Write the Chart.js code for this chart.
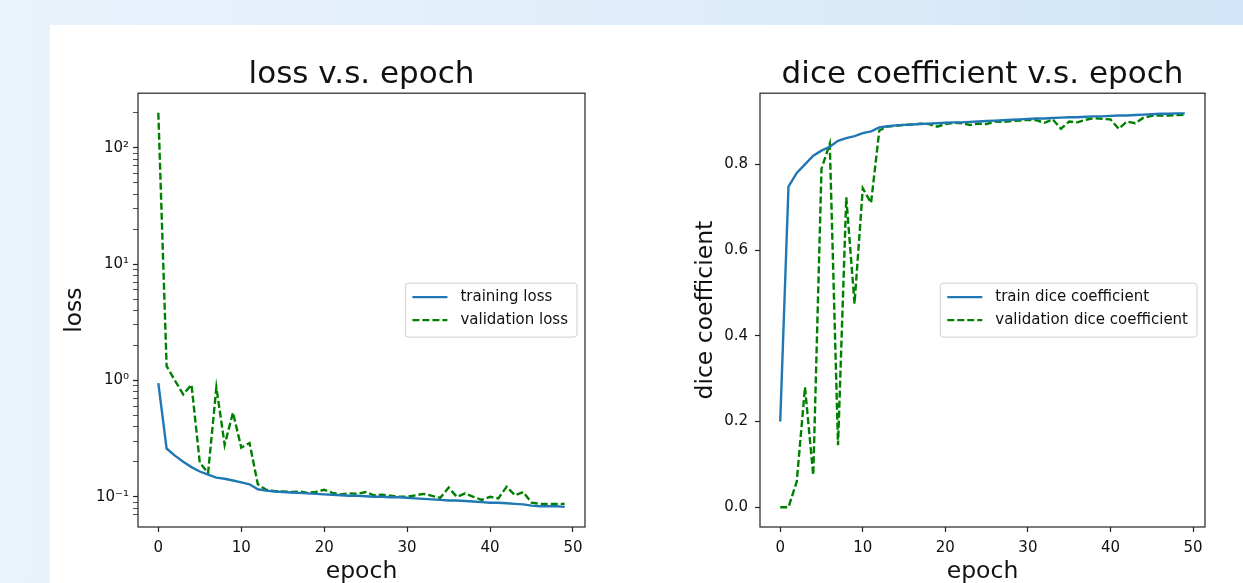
<!DOCTYPE html>
<html>
<head>
<meta charset="utf-8">
<script src="https://cdn.jsdelivr.net/npm/chart.js@4.4.1/dist/chart.umd.min.js"></script>
<style>
  body { margin: 0; width: 1243px; height: 583px; overflow: hidden;
         background: linear-gradient(90deg, #eaf3fc 0%, #dfedfa 55%, #d0e5f7 100%); }
  #panel { position: absolute; left: 50px; top: 25px; width: 1193px; height: 558px; background: #fff; overflow: visible; }
  .box { position: absolute; top: 0; height: 561px; }
  #lossBox { left: 0; width: 560px; }
  #diceBox { left: 630px; width: 550px; }
</style>
</head>
<body>
<div id="panel">
  <div class="box" id="lossBox"><canvas id="lossChart"></canvas></div>
  <div class="box" id="diceBox"><canvas id="diceChart"></canvas></div>
</div>
<script>
// epochs 0..49
const epochs = [0,1,2,3,4,5,6,7,8,9,10,11,12,13,14,15,16,17,18,19,20,21,22,23,24,
  25,26,27,28,29,30,31,32,33,34,35,36,37,38,39,40,41,42,43,44,45,46,47,48,49];

const trainLoss = [0.95,0.26,0.226,0.20,0.18,0.165,0.155,0.146,0.143,0.138,0.133,0.128,0.116,0.113,
  0.111,0.11,0.109,0.108,0.107,0.106,0.105,0.104,0.103,0.102,0.102,0.101,0.1,0.1,0.099,0.099,
  0.098,0.097,0.096,0.095,0.094,0.093,0.093,0.092,0.091,0.09,0.089,0.089,0.088,0.087,0.086,
  0.084,0.083,0.083,0.083,0.082];
const valLoss = [200,1.33,1.0,0.76,0.92,0.197,0.16,0.87,0.28,0.53,0.265,0.29,0.128,0.115,
  0.112,0.111,0.11,0.111,0.108,0.11,0.115,0.108,0.105,0.107,0.106,0.11,0.103,0.104,0.102,0.1,
  0.1,0.103,0.106,0.102,0.098,0.12,0.1,0.107,0.1,0.094,0.1,0.097,0.122,0.103,0.11,
  0.089,0.087,0.087,0.087,0.087];

const trainDice = [0.2,0.748,0.78,0.80,0.82,0.832,0.841,0.855,0.861,0.866,0.873,0.877,0.886,0.889,
  0.891,0.892,0.893,0.894,0.895,0.896,0.897,0.898,0.898,0.899,0.9,0.901,0.902,0.903,0.904,0.905,
  0.906,0.907,0.907,0.908,0.909,0.91,0.91,0.911,0.912,0.912,0.913,0.914,0.914,0.915,0.916,
  0.917,0.918,0.918,0.919,0.919];
const valDice = [0.0,0.0,0.06,0.28,0.075,0.79,0.848,0.145,0.723,0.475,0.744,0.71,0.879,0.888,
  0.89,0.892,0.893,0.895,0.894,0.888,0.894,0.897,0.896,0.892,0.895,0.894,0.9,0.899,0.901,0.902,
  0.904,0.903,0.897,0.905,0.883,0.9,0.898,0.904,0.908,0.906,0.905,0.883,0.9,0.896,0.909,
  0.913,0.914,0.914,0.915,0.916];

const xTicks = [0, 10, 20, 30, 40, 50];
const diceTicks = [0.0, 0.2, 0.4, 0.6, 0.8];

const BLUE = "#1f77b4";
const GREEN = "#008000";
const TEXT = "#111111";

Chart.defaults.font.family = '"DejaVu Sans", sans-serif';
Chart.defaults.color = TEXT;

const sup = { "-": "\u207B", "0": "\u2070", "1": "\u00B9", "2": "\u00B2", "3": "\u00B3" };

function logMantissa(v) {
  const e = Math.floor(Math.log10(v) + 1e-9);
  return v / Math.pow(10, e);
}
function isWholeTick(v) {
  const m = logMantissa(v);
  return Math.abs(m - Math.round(m)) < 1e-6;
}
function logLabel(v) {
  const e = Math.log10(v);
  if (Math.abs(e - Math.round(e)) > 1e-6) return "";
  return "10" + String(Math.round(e)).split("").map(c => sup[c]).join("");
}

// box around the axes plus a matplotlib style legend inside it
const framePlugin = {
  id: "frameAndLegend",
  afterDraw(chart) {
    const { ctx, chartArea: a } = chart;
    ctx.save();
    ctx.strokeStyle = "#222";
    ctx.lineWidth = 1.2;
    ctx.strokeRect(a.left, a.top, a.right - a.left, a.bottom - a.top);

    const sets = chart.data.datasets;
    ctx.font = '15px "DejaVu Sans"';
    const textW = Math.max(...sets.map(d => ctx.measureText(d.label).width));
    const w = 7 + 35 + 13 + textW + 9, h = 54;
    const x = a.right - 8 - w, y = (a.top + a.bottom) / 2 - h / 2;
    ctx.fillStyle = "rgba(255,255,255,0.8)";
    ctx.strokeStyle = "#d0d0d0";
    ctx.lineWidth = 1;
    ctx.beginPath();
    ctx.roundRect(x, y, w, h, 3);
    ctx.fill();
    ctx.stroke();
    sets.forEach((d, i) => {
      const ly = y + 14 + i * 23;
      ctx.strokeStyle = d.borderColor;
      ctx.lineWidth = d.borderWidth;
      ctx.setLineDash(d.borderDash || []);
      ctx.beginPath();
      ctx.moveTo(x + 7, ly);
      ctx.lineTo(x + 42, ly);
      ctx.stroke();
      ctx.setLineDash([]);
      ctx.fillStyle = TEXT;
      ctx.textBaseline = "middle";
      ctx.fillText(d.label, x + 55, ly);
    });
    ctx.restore();
  }
};

function series(label, values, color, dashed) {
  return {
    label: label,
    data: epochs.map((e, i) => ({ x: e, y: values[i] })),
    borderColor: color,
    borderWidth: 2.4,
    borderDash: dashed ? [7, 3] : [],
    pointRadius: 0,
    tension: 0,
    fill: false
  };
}

function xAxis() {
  return {
    type: "linear",
    min: -2.45,
    max: 51.45,
    afterFit: s => { s.height = 59; },
    afterBuildTicks: s => { s.ticks = xTicks.map(v => ({ value: v })); },
    border: { display: false },
    grid: { drawOnChartArea: false, tickLength: 5, tickColor: "#222", tickWidth: 1.2 },
    ticks: { padding: 7, font: { size: 15 }, color: TEXT, maxRotation: 0 },
    title: { display: true, text: "epoch", font: { size: 23.5 }, color: TEXT, padding: { top: 0, bottom: 0 } }
  };
}

function baseOptions(titleText, yAxis) {
  return {
    responsive: true,
    maintainAspectRatio: false,
    animation: false,
    layout: { padding: { left: 0, right: 25, top: 0, bottom: 0 } },
    plugins: {
      legend: { display: false },
      tooltip: { enabled: false },
      title: {
        display: true,
        text: titleText,
        fullSize: false,
        color: TEXT,
        font: { size: 31, weight: "normal" },
        padding: { top: 31, bottom: 0 }
      }
    },
    scales: { x: xAxis(), y: yAxis }
  };
}

new Chart(document.getElementById("lossChart"), {
  type: "line",
  data: {
    datasets: [
      series("training loss", trainLoss, BLUE, false),
      series("validation loss", valLoss, GREEN, true)
    ]
  },
  options: baseOptions("loss v.s. epoch", {
    type: "logarithmic",
    min: 0.055,
    max: 295,
    afterFit: s => { s.width = 88; },
    border: { display: false },
    grid: {
      drawOnChartArea: false,
      tickLength: 5,
      tickColor: c => (c.tick && isWholeTick(c.tick.value)) ? "#222" : "rgba(0,0,0,0)",
      tickWidth: c => (c.tick && Math.abs(logMantissa(c.tick.value) - 1) < 1e-6) ? 1.2 : 0.8
    },
    ticks: { autoSkip: false, padding: 4, font: { size: 15 }, color: TEXT, callback: v => logLabel(v) },
    title: { display: true, text: "loss", font: { size: 23.5 }, color: TEXT, padding: { top: 11, bottom: 0 } }
  }),
  plugins: [framePlugin]
});

new Chart(document.getElementById("diceChart"), {
  type: "line",
  data: {
    datasets: [
      series("train dice coefficient", trainDice, BLUE, false),
      series("validation dice coefficient", valDice, GREEN, true)
    ]
  },
  options: baseOptions("dice coefficient v.s. epoch", {
    type: "linear",
    min: -0.046,
    max: 0.966,
    afterFit: s => { s.width = 80; },
    afterBuildTicks: s => { s.ticks = diceTicks.map(v => ({ value: v })); },
    border: { display: false },
    grid: { drawOnChartArea: false, tickLength: 5, tickColor: "#222", tickWidth: 1.2 },
    ticks: { padding: 7, font: { size: 15 }, color: TEXT, callback: v => v.toFixed(1) },
    title: { display: true, text: "dice coefficient", font: { size: 23.5 }, color: TEXT, padding: { top: 12, bottom: 0 } }
  }),
  plugins: [framePlugin]
});
</script>
</body>
</html>
